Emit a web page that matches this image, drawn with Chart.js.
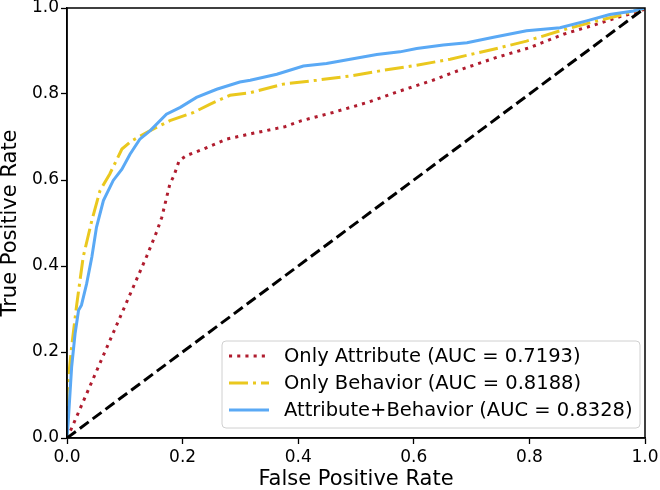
<!DOCTYPE html>
<html>
<head>
<meta charset="utf-8">
<script src="https://cdn.jsdelivr.net/npm/chart.js@4.4.1/dist/chart.umd.min.js"></script>
<style>
  html, body { margin: 0; padding: 0; background: #fff; }
  #wrap { width: 660px; height: 490px; }
</style>
</head>
<body>
<div id="wrap"><canvas id="roc" width="660" height="490"></canvas></div>
<script>
// ROC curves
const attrFpr = [0, 0.007, 0.138, 0.155, 0.164, 0.171, 0.178, 0.185, 0.194, 0.207, 0.236, 0.276, 0.320, 0.363, 0.377, 0.406, 0.460, 0.519, 0.576, 0.631, 0.686, 0.743, 0.801, 0.859, 0.911, 0.957, 0.994, 1];
const attrTpr = [0, 0.02, 0.423, 0.479, 0.513, 0.552, 0.591, 0.610, 0.645, 0.657, 0.672, 0.695, 0.708, 0.720, 0.724, 0.738, 0.757, 0.780, 0.807, 0.831, 0.859, 0.885, 0.908, 0.939, 0.960, 0.980, 0.993, 1];

const behFpr = [0, 0, 0.008, 0.017, 0.028, 0.043, 0.057, 0.074, 0.095, 0.112, 0.144, 0.178, 0.219, 0.247, 0.282, 0.317, 0.374, 0.432, 0.490, 0.547, 0.605, 0.663, 0.692, 0.738, 0.795, 0.853, 0.911, 0.957, 1];
const behTpr = [0, 0.104, 0.212, 0.312, 0.421, 0.506, 0.575, 0.614, 0.672, 0.691, 0.715, 0.738, 0.757, 0.776, 0.797, 0.803, 0.823, 0.832, 0.842, 0.855, 0.867, 0.881, 0.890, 0.904, 0.923, 0.947, 0.968, 0.983, 1];

const bothFpr = [0, 0.002, 0.008, 0.014, 0.020, 0.025, 0.034, 0.043, 0.051, 0.063, 0.080, 0.095, 0.109, 0.126, 0.144, 0.172, 0.196, 0.224, 0.259, 0.299, 0.317, 0.363, 0.409, 0.449, 0.490, 0.536, 0.576, 0.605, 0.651, 0.692, 0.738, 0.795, 0.853, 0.899, 0.939, 0.980, 1];
const bothTpr = [0, 0.035, 0.165, 0.243, 0.297, 0.309, 0.359, 0.421, 0.490, 0.552, 0.599, 0.625, 0.660, 0.695, 0.715, 0.753, 0.769, 0.792, 0.811, 0.828, 0.832, 0.846, 0.865, 0.871, 0.881, 0.892, 0.898, 0.906, 0.914, 0.919, 0.932, 0.947, 0.954, 0.970, 0.985, 0.993, 1];

const chanceFpr = [0, 1];
const chanceTpr = [0, 1];

const tickValues = [0, 0.2, 0.4, 0.6, 0.8, 1.0];
const seriesLabels = ['Only Attribute (AUC = 0.7193)', 'Only Behavior (AUC = 0.8188)', 'Attribute+Behavior (AUC = 0.8328)'];

const RED = '#b01c2e';
const YELLOW = '#eac81e';
const BLUE = '#5aa9f5';

function toPoints(xs, ys) {
  return xs.map((x, i) => ({ x: x, y: ys[i] }));
}

const legendStyles = [
  { color: RED, dash: [3.1, 5.1] },
  { color: YELLOW, dash: [19, 5, 3, 5] },
  { color: BLUE, dash: [] }
];

// frame drawn above the curves, like matplotlib spines
const framePlugin = {
  id: 'frame',
  afterDatasetsDraw(chart) {
    const a = chart.chartArea;
    const ctx = chart.ctx;
    ctx.save();
    ctx.strokeStyle = '#000';
    ctx.lineWidth = 1.5;
    ctx.strokeRect(a.left, a.top, a.right - a.left, a.bottom - a.top);
    ctx.restore();
  }
};

// legend box in lower right of the plot
const boxLegend = {
  id: 'boxLegend',
  afterDraw(chart) {
    const ctx = chart.ctx;
    const bx = 222, by = 341, bw = 418, bh = 87, r = 4;
    ctx.save();
    ctx.beginPath();
    ctx.moveTo(bx + r, by);
    ctx.arcTo(bx + bw, by, bx + bw, by + bh, r);
    ctx.arcTo(bx + bw, by + bh, bx, by + bh, r);
    ctx.arcTo(bx, by + bh, bx, by, r);
    ctx.arcTo(bx, by, bx + bw, by, r);
    ctx.closePath();
    ctx.fillStyle = 'rgba(255,255,255,0.8)';
    ctx.fill();
    ctx.strokeStyle = '#d0d0d0';
    ctx.lineWidth = 1;
    ctx.stroke();

    const rows = [356, 383, 410];
    ctx.font = '19.5px "DejaVu Sans"';
    ctx.textBaseline = 'middle';
    ctx.textAlign = 'left';
    for (let i = 0; i < seriesLabels.length; i++) {
      ctx.beginPath();
      ctx.setLineDash(legendStyles[i].dash);
      ctx.strokeStyle = legendStyles[i].color;
      ctx.lineWidth = 3;
      ctx.moveTo(229, rows[i]);
      ctx.lineTo(269, rows[i]);
      ctx.stroke();
      ctx.setLineDash([]);
      ctx.fillStyle = '#000';
      ctx.fillText(seriesLabels[i], 284, rows[i] + 1);
    }
    ctx.restore();
  }
};

const ctx = document.getElementById('roc').getContext('2d');
const chart = new Chart(ctx, {
  type: 'line',
  data: {
    datasets: [
      {
        label: seriesLabels[0],
        data: toPoints(attrFpr, attrTpr),
        borderColor: RED,
        borderWidth: 3,
        borderDash: legendStyles[0].dash,
        order: 4
      },
      {
        label: seriesLabels[1],
        data: toPoints(behFpr, behTpr),
        borderColor: YELLOW,
        borderWidth: 3,
        borderDash: legendStyles[1].dash,
        order: 3
      },
      {
        label: seriesLabels[2],
        data: toPoints(bothFpr, bothTpr),
        borderColor: BLUE,
        borderWidth: 3,
        order: 2
      },
      {
        label: 'chance',
        data: toPoints(chanceFpr, chanceTpr),
        borderColor: '#000',
        borderWidth: 3,
        borderDash: [11, 5],
        order: 1
      }
    ]
  },
  options: {
    responsive: false,
    animation: false,
    layout: { padding: { left: 0, right: 15, top: 8, bottom: 0 } },
    elements: {
      point: { radius: 0 },
      line: { tension: 0, fill: false, borderCapStyle: 'butt' }
    },
    plugins: {
      legend: { display: false },
      tooltip: { enabled: false }
    },
    scales: {
      x: {
        type: 'linear',
        min: 0,
        max: 1,
        afterBuildTicks(scale) { scale.ticks = tickValues.map(v => ({ value: v })); },
        afterFit(scale) {
          scale.height = 52;
          scale.paddingLeft = 0;
          scale.paddingRight = 0;
        },
        ticks: {
          color: '#000',
          font: { family: 'DejaVu Sans', size: 17 },
          padding: 3,
          maxRotation: 0,
          callback: v => v.toFixed(1)
        },
        grid: { drawOnChartArea: false, tickLength: 6, tickColor: '#000', tickWidth: 1.3 },
        border: { display: true, color: '#000', width: 1.5 },
        title: {
          display: true,
          text: 'False Positive Rate',
          color: '#000',
          font: { family: 'DejaVu Sans', size: 21, lineHeight: 1 },
          padding: { top: 0, bottom: 0 }
        }
      },
      y: {
        type: 'linear',
        min: 0,
        max: 1,
        afterBuildTicks(scale) { scale.ticks = tickValues.map(v => ({ value: v })); },
        afterFit(scale) {
          scale.width = 67;
          scale.paddingTop = 0;
          scale.paddingBottom = 0;
        },
        ticks: {
          color: '#000',
          font: { family: 'DejaVu Sans', size: 17 },
          padding: 2,
          callback: v => v.toFixed(1)
        },
        grid: { drawOnChartArea: false, tickLength: 6, tickColor: '#000', tickWidth: 1.3 },
        border: { display: true, color: '#000', width: 1.5 },
        title: {
          display: true,
          text: 'True Positive Rate',
          color: '#000',
          font: { family: 'DejaVu Sans', size: 21, lineHeight: 1 },
          padding: { top: 0, bottom: 0 }
        }
      }
    }
  },
  plugins: [framePlugin, boxLegend]
});
</script>
</body>
</html>
